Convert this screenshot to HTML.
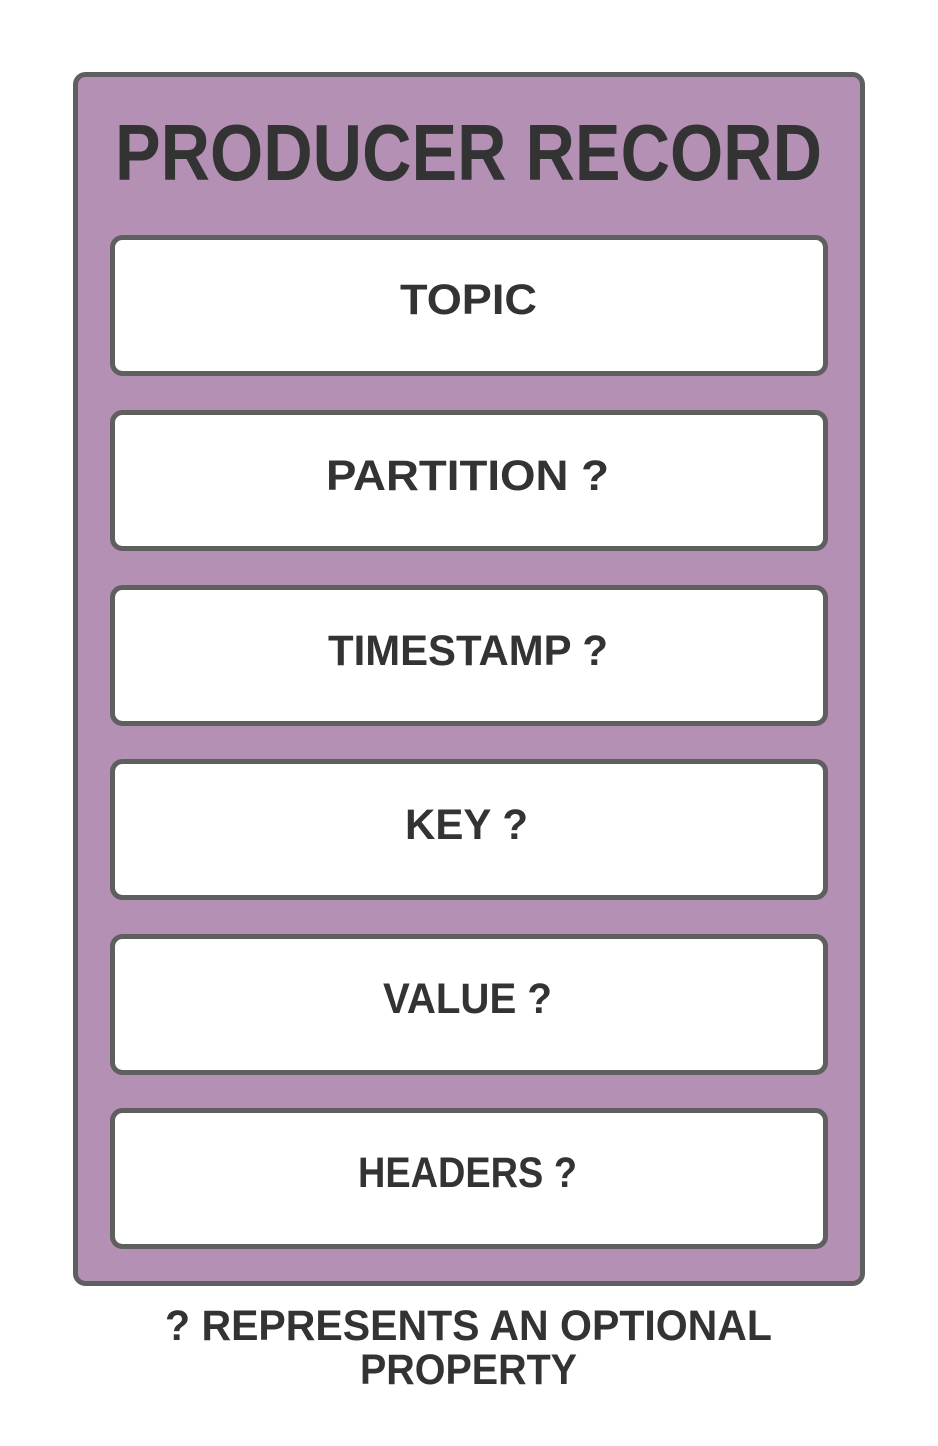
<!DOCTYPE html>
<html><head><meta charset="utf-8"><style>
html,body{margin:0;padding:0;background:#fff;}
svg{display:block}
text{font-family:"Liberation Sans",sans-serif;font-weight:bold;fill:#333;}
</style></head><body>
<svg width="938" height="1446" viewBox="0 0 938 1446" xmlns="http://www.w3.org/2000/svg">
<rect x="75.5" y="74.5" width="787" height="1209" rx="10" fill="#b390b4" stroke="#5f5f5f" stroke-width="5"/>
<text x="115" y="180" font-size="80" textLength="707" lengthAdjust="spacingAndGlyphs">PRODUCER RECORD</text>
<g fill="#fff" stroke="#5f5f5f" stroke-width="5">
<rect x="112.5" y="237.5" width="713" height="136" rx="10"/>
<rect x="112.5" y="412.5" width="713" height="136" rx="10"/>
<rect x="112.5" y="587.5" width="713" height="136" rx="10"/>
<rect x="112.5" y="761.5" width="713" height="136" rx="10"/>
<rect x="112.5" y="936.5" width="713" height="136" rx="10"/>
<rect x="112.5" y="1110.5" width="713" height="136" rx="10"/>
</g>
<g font-size="43">
<text x="400" y="314" textLength="137" lengthAdjust="spacingAndGlyphs">TOPIC</text>
<text x="326" y="490" textLength="283" lengthAdjust="spacingAndGlyphs">PARTITION ?</text>
<text x="328" y="665" textLength="280" lengthAdjust="spacingAndGlyphs">TIMESTAMP ?</text>
<text x="405" y="839" textLength="123" lengthAdjust="spacingAndGlyphs">KEY ?</text>
<text x="383" y="1013" textLength="169" lengthAdjust="spacingAndGlyphs">VALUE ?</text>
<text x="358" y="1187" textLength="219" lengthAdjust="spacingAndGlyphs">HEADERS ?</text>
<text x="165" y="1340" textLength="607" lengthAdjust="spacingAndGlyphs">? REPRESENTS AN OPTIONAL</text>
<text x="360" y="1384" textLength="217" lengthAdjust="spacingAndGlyphs">PROPERTY</text>
</g>
</svg>
</body></html>
